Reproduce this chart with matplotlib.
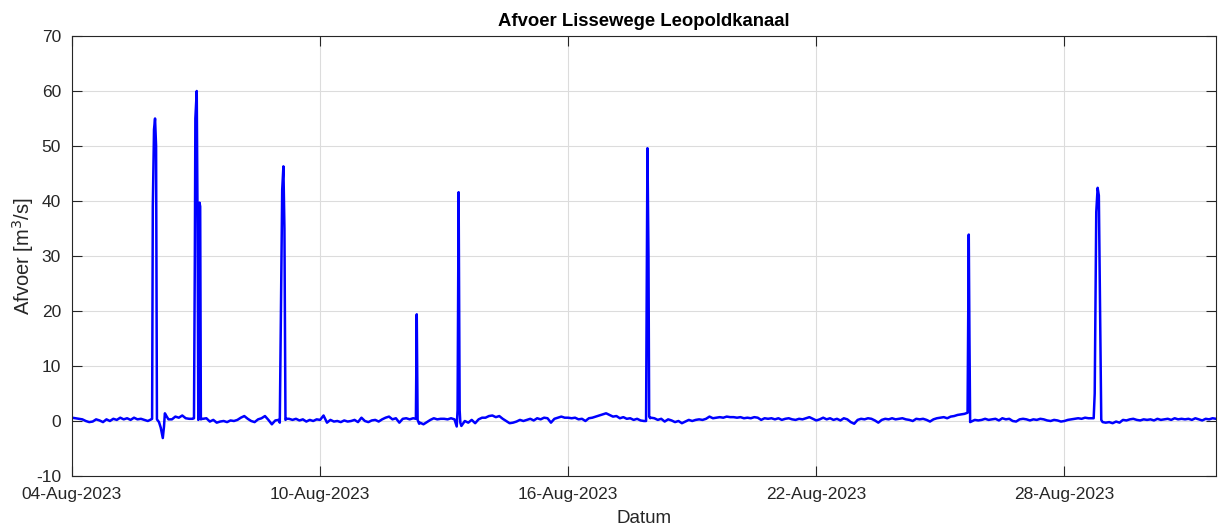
import numpy as np
import matplotlib
matplotlib.use("Agg")
import matplotlib.pyplot as plt
import matplotlib.dates as mdates
import datetime as dt

# ---------------- data ----------------
start = dt.datetime(2023, 8, 4, 0, 0)
step_hours = 2  # baseline sampling
base_flow = [
    0.6, 0.5, 0.4, 0.3, 0.0, -0.2, -0.1, 0.3, 0.1, -0.2, 0.3, 0.0,      # 04-Aug
    0.4, 0.2, 0.6, 0.3, 0.5, 0.2, 0.6, 0.3, 0.4, 0.2, 0.0, 0.3,         # 05-Aug
    0.3, 0.3, 0.3, 0.3, 0.3, 0.3, 0.8, 0.6, 1.0, 0.5, 0.4, 0.4,         # 06-Aug
    0.3, 0.3, 0.4, 0.5, -0.1, 0.2, -0.3, -0.1, 0.0, -0.2, 0.1, 0.0,     # 07-Aug
    0.2, 0.6, 0.9, 0.4, 0.0, -0.2, 0.3, 0.5, 0.9, 0.2, -0.6, 0.1,       # 08-Aug
    0.2, 0.2, 0.2, 0.4, 0.2, 0.4, 0.1, 0.3, -0.1, 0.2, 0.0, 0.3,        # 09-Aug
    0.2, 1.0, -0.3, 0.2, -0.1, 0.0, -0.2, 0.1, -0.1, 0.0, 0.2, -0.2,    # 10-Aug
    0.6, 0.0, -0.2, 0.1, 0.2, -0.1, 0.3, 0.6, 0.8, 0.3, 0.5, -0.3,      # 11-Aug
    0.4, 0.5, 0.3, 0.5, 0.4, -0.3, -0.6, -0.2, 0.2, 0.5, 0.3, 0.4,      # 12-Aug
    0.4, 0.3, 0.5, 0.3, -0.5, -0.9, 0.0, -0.3, 0.2, -0.4, 0.3, 0.6,     # 13-Aug
    0.6, 0.9, 1.0, 0.7, 0.9, 0.4, 0.0, -0.4, -0.3, -0.1, 0.2, 0.0,      # 14-Aug
    0.2, 0.4, 0.1, 0.5, 0.3, 0.6, 0.5, -0.3, 0.4, 0.6, 0.8, 0.6,        # 15-Aug
    0.6, 0.5, 0.6, 0.3, 0.4, 0.0, 0.5, 0.6, 0.8, 1.0, 1.2, 1.4,         # 16-Aug
    1.1, 0.8, 0.9, 0.5, 0.7, 0.4, 0.5, 0.2, 0.4, 0.1, 0.0, 0.0,         # 17-Aug
    0.6, 0.5, 0.2, 0.4, -0.1, 0.3, 0.1, -0.2, 0.0, -0.4, -0.1, 0.2,     # 18-Aug
    0.0, 0.2, 0.3, 0.2, 0.4, 0.8, 0.5, 0.6, 0.7, 0.6, 0.8, 0.7,         # 19-Aug
    0.7, 0.6, 0.7, 0.5, 0.6, 0.5, 0.7, 0.6, 0.2, 0.5, 0.4, 0.5,         # 20-Aug
    0.3, 0.5, 0.2, 0.4, 0.5, 0.3, 0.2, 0.4, 0.3, 0.5, 0.7, 0.4,         # 21-Aug
    0.1, 0.3, 0.6, 0.3, 0.5, 0.2, 0.4, 0.1, 0.5, 0.3, -0.2, -0.5,       # 22-Aug
    0.2, 0.4, 0.3, 0.5, 0.4, 0.1, -0.3, 0.2, 0.4, 0.3, 0.5, 0.3,        # 23-Aug
    0.4, 0.5, 0.3, 0.2, 0.0, 0.4, 0.3, 0.4, 0.2, -0.1, 0.3, 0.5,        # 24-Aug
    0.6, 0.7, 0.5, 0.8, 0.9, 1.1, 1.2, 1.3, 1.5, -0.1, 0.2, 0.1,        # 25-Aug
    0.2, 0.4, 0.2, 0.3, 0.4, 0.1, 0.5, 0.3, 0.4, 0.0, -0.1, 0.3,        # 26-Aug
    0.4, 0.3, 0.1, 0.3, 0.2, 0.4, 0.3, 0.1, 0.0, 0.2, 0.1, -0.1,        # 27-Aug
    0.0, 0.2, 0.3, 0.4, 0.5, 0.4, 0.6, 0.5, 0.5, 0.5, 0.5, -0.3,        # 28-Aug
    -0.3, -0.2, -0.4, -0.1, -0.3, 0.2, 0.1, 0.3, 0.4, 0.2, 0.1, 0.3,    # 29-Aug
    0.2, 0.3, 0.1, 0.4, 0.2, 0.3, 0.4, 0.2, 0.5, 0.3, 0.4, 0.3,         # 30-Aug
    0.4, 0.2, 0.5, 0.3, 0.1, 0.4, 0.3, 0.5, 0.4,                        # 31-Aug
]

# peak events: hours since start, discharge
event1_h = [46.5, 46.9, 47.6, 48.2, 48.8, 49.3, 50.5, 51.5, 52.7, 53.4, 53.9, 55.0]
event1_q = [0.4, 39.0, 53.0, 55.0, 50.0, 0.3, -0.2, -1.2, -3.1, -1.0, 1.4, 0.8]
event2_h = [70.8, 71.3, 71.6, 72.4, 72.9, 73.3, 73.7, 74.0, 74.4, 74.8, 75.5]
event2_q = [0.5, 30.0, 55.0, 60.0, 35.0, 0.2, 0.5, 39.7, 39.0, 0.3, 0.4]
event3_h = [120.6, 121.3, 122.0, 122.7, 123.3, 123.9, 124.5]
event3_q = [-0.3, 20.0, 42.0, 46.3, 35.0, 0.2, 0.4]
event4_h = [199.6, 200.1, 200.6, 201.5]
event4_q = [0.4, 19.4, 0.2, -0.5]
event5_h = [223.3, 223.8, 224.4, 225.0, 225.4]
event5_q = [-1.0, 2.0, 41.6, 2.0, -0.3]
event6_h = [333.2, 333.7, 334.0, 334.6, 335.0, 335.6]
event6_q = [0.0, 30.0, 49.6, 30.0, 0.8, 0.5]
event7_h = [519.8, 520.2, 520.5, 520.9, 521.3]
event7_q = [1.5, 20.0, 33.9, 15.0, -0.2]
event8_h = [593.0, 593.6, 594.5, 595.3, 596.0, 596.7, 597.4, 598.2]
event8_q = [0.5, 5.0, 38.0, 42.4, 41.0, 20.0, 0.2, -0.2]

events = [(event1_h, event1_q), (event2_h, event2_q), (event3_h, event3_q),
          (event4_h, event4_q), (event5_h, event5_q), (event6_h, event6_q),
          (event7_h, event7_q), (event8_h, event8_q)]

x_ticks = [dt.datetime(2023, 8, d) for d in (4, 10, 16, 22, 28)]
y_ticks = [-10, 0, 10, 20, 30, 40, 50, 60, 70]

# ---------------- assemble series ----------------
base_h = np.arange(len(base_flow)) * step_hours
base_q = np.array(base_flow, dtype=float)
keep = np.ones(len(base_h), dtype=bool)
for eh, _ in events:
    keep &= ~((base_h >= eh[0]) & (base_h <= eh[-1]))
all_h = list(base_h[keep])
all_q = list(base_q[keep])
for eh, eq in events:
    all_h += eh
    all_q += eq
order = np.argsort(all_h)
hours = np.array(all_h)[order]
flow = np.array(all_q)[order]
times = [start + dt.timedelta(hours=float(h)) for h in hours]

# ---------------- plot ----------------
plt.rcParams['font.family'] = ['Liberation Sans', 'DejaVu Sans']
plt.rcParams['axes.unicode_minus'] = False
fig = plt.figure(figsize=(12.18, 5.27), dpi=100)
ax = fig.add_axes([72 / 1218, 1 - 476 / 527, (1216 - 72) / 1218, (476 - 36) / 527])

ax.plot(times, flow, color=(0, 0, 1), lw=1.8)

ax.set_xlim(start, start + dt.timedelta(hours=float(base_h[-1])))
ax.set_ylim(-10, 70)
ax.set_yticks(y_ticks)
ax.set_xticks(x_ticks)
ax.xaxis.set_major_formatter(mdates.DateFormatter('%d-%b-%Y'))

tc = '#262626'
ax.grid(True, color='#dcdcdc', lw=0.8)
ax.set_axisbelow(True)
ax.tick_params(direction='in', length=7.5, width=0.8, colors=tc, labelsize=12.5,
               top=True, right=True, labelcolor=tc)
ax.tick_params(axis='x', pad=8)
ax.tick_params(axis='y', pad=8)
for s in ax.spines.values():
    s.set_color(tc)
    s.set_linewidth(0.8)

ax.set_title('Afvoer Lissewege Leopoldkanaal', fontsize=13.3, fontweight='bold', color='black', pad=7)
ax.set_ylabel('Afvoer [m$^3$/s]', fontsize=14.5, color=tc, labelpad=0)
ax.set_xlabel('Datum', fontsize=13.5, color=tc, labelpad=6)

fig.savefig('out.png', dpi=100)
